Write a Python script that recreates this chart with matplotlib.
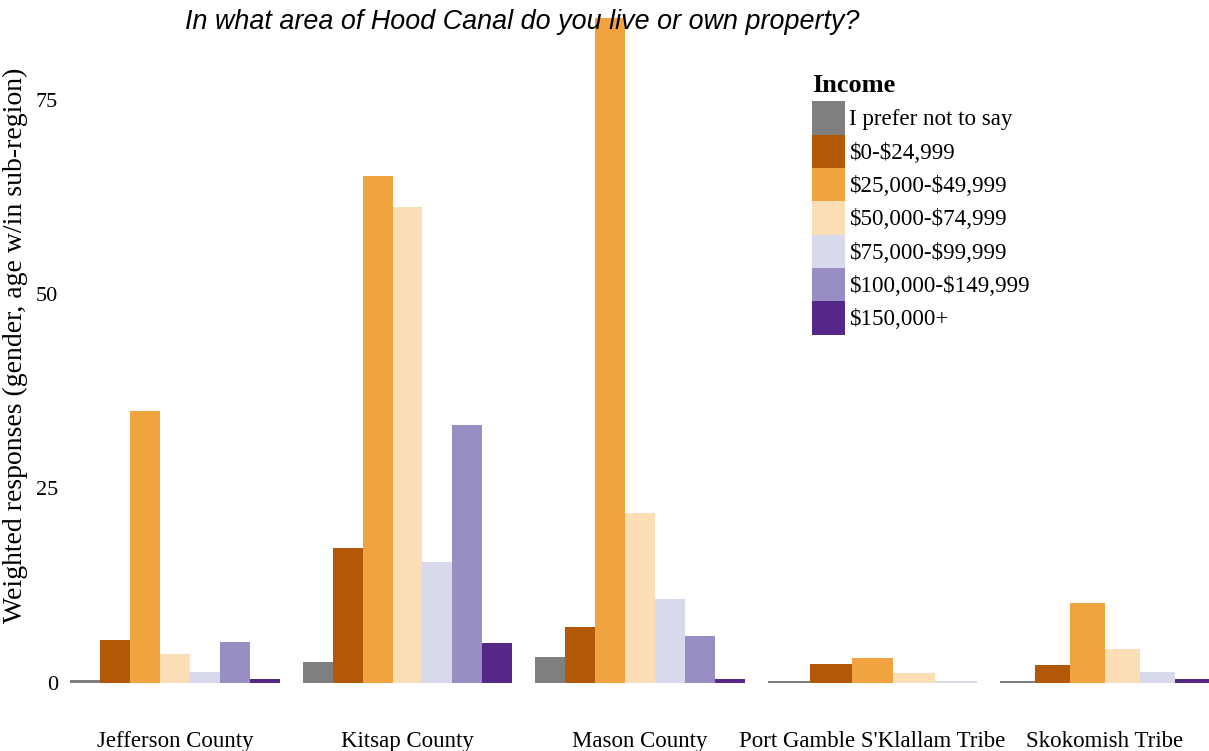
import numpy as np
import matplotlib
matplotlib.use('Agg')
import matplotlib.pyplot as plt
from matplotlib.patches import Patch

plt.rcParams['text.parse_math'] = False

# categories and income groups
regions = ['Jefferson County', 'Kitsap County', 'Mason County',
           "Port Gamble S'Klallam Tribe", 'Skokomish Tribe']
incomes = ['I prefer not to say', '$0-$24,999', '$25,000-$49,999', '$50,000-$74,999',
           '$75,000-$99,999', '$100,000-$149,999', '$150,000+']
colors = ['#7f7f7f', '#b35806', '#f1a340', '#fbdeb5', '#d8daeb', '#998ec3', '#542788']

# weighted responses per region (None = group absent)
jefferson = [0.3, 5.5, 34.9, 3.7, 1.4, 5.2, 0.5]
kitsap = [2.7, 17.3, 65.2, 61.2, 15.5, 33.1, 5.1]
mason = [3.3, 7.1, 85.5, 21.8, 10.7, 6.0, 0.5]
port_gamble = [0.25, 2.4, 3.1, 1.2, 0.25, None, None]
skokomish = [0.15, 2.2, 10.2, 4.25, 1.4, None, 0.4]

data = [jefferson, kitsap, mason, port_gamble, skokomish]

W, H = 1209, 751
fig = plt.figure(figsize=(W / 100, H / 100), dpi=100)
# axes placed in pixel terms
left, right, top, bottom = 65, 1209, 0, 700
ax = fig.add_axes([left / W, 1 - bottom / H, (right - left) / W, (bottom - top) / H])

serif = 'Liberation Serif'

# ggplot style dodge: 0.9 width split over the bars present
for i, vals in enumerate(data):
    present = [(j, v) for j, v in enumerate(vals) if v is not None]
    n = len(present)
    w = 0.9 / n
    for k, (j, v) in enumerate(present):
        x = i - 0.45 + w * (k + 0.5)
        ax.bar(x, v, width=w, color=colors[j], linewidth=0)

# x range chosen so Jefferson centre is at ~175px, spacing ~232.5px
px_per_unit = 232.5
ax.set_xlim((left - 175) / px_per_unit, (right - 175) / px_per_unit)
py_per_unit = (682.5 - 100) / 75
ax.set_ylim(-(bottom - 682.5) / py_per_unit, (682.5 - top) / py_per_unit)

ax.set_xticks(range(len(regions)))
ax.set_xticklabels(regions, fontfamily=serif, fontsize=16.5)
ax.set_yticks([0, 25, 50, 75])
ax.set_yticklabels(['0', '25', '50', '75'], fontfamily=serif, fontsize=16)
ax.tick_params(length=0)
ax.tick_params(axis='x', pad=22)
ax.tick_params(axis='y', pad=5)
for s in ax.spines.values():
    s.set_visible(False)
ax.set_ylabel('Weighted responses (gender, age w/in sub-region)',
              fontfamily=serif, fontsize=20)
ax.yaxis.set_label_coords((28 - left) / (right - left), 1 - 345 / (bottom - top),
                          transform=ax.transAxes)
ax.patch.set_alpha(0)

fig.text(522 / W, 1 - 22 / H, 'In what area of Hood Canal do you live or own property?',
         ha='center', va='center', fontsize=19.4, style='italic',
         fontfamily='Liberation Sans', zorder=10)

handles = [Patch(facecolor=c, edgecolor='none') for c in colors]
leg = fig.legend(handles, incomes, loc='upper left',
                 bbox_to_anchor=(812 / W, 1 - 74 / H), frameon=False,
                 prop={'family': serif, 'size': 16.6}, title='Income',
                 title_fontproperties={'family': serif, 'size': 19, 'weight': 'bold'},
                 handlelength=1.43, handleheight=1.85, labelspacing=0,
                 handletextpad=0.17, borderpad=0, borderaxespad=0)
leg._legend_box.align = 'left'
leg._legend_box.sep = 3

fig.savefig('out.png', dpi=100)
